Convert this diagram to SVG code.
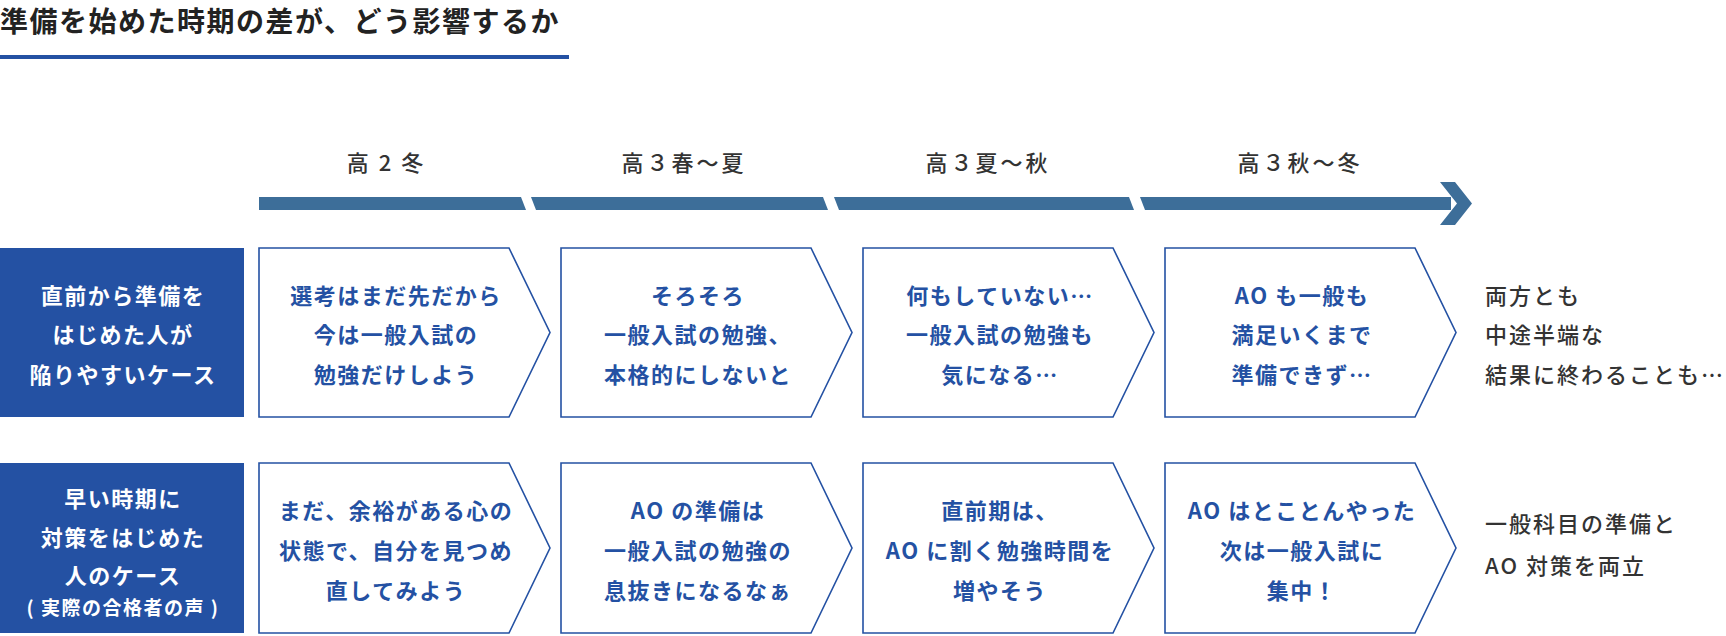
<svg xmlns="http://www.w3.org/2000/svg" width="1726" height="636" viewBox="0 0 1726 636">
<style>
text{font-family:"Noto Sans CJK JP","Noto Sans CJK SC",sans-serif;dominant-baseline:central}
.title{font-size:28px;font-weight:700;fill:#222;letter-spacing:1.5px}
.lab{font-size:22px;font-weight:500;fill:#333;letter-spacing:3px;text-anchor:middle}
.bar{fill:#3d6e99}
.head{fill:#2451a3}
.htx{font-size:22px;font-weight:700;fill:#fff;letter-spacing:1.5px;text-anchor:middle}
.hsm{font-size:19px;font-weight:700;fill:#fff;letter-spacing:1.5px;text-anchor:middle}
.chev{fill:#fff;stroke:#2451a3;stroke-width:1.6}
.ctx{font-size:22px;font-weight:700;fill:#2451a3;letter-spacing:1.5px;text-anchor:middle}
.rtx{font-size:22px;font-weight:500;fill:#333;letter-spacing:2px}
</style>
<g id="title">
<text class="title" x="0" y="20">準備を始めた時期の差が、どう影響するか</text>
<rect x="0" y="55" width="569" height="4" fill="#2451a3"/>
</g>
<g id="timeline">
<polygon class="bar" points="259,197 521,197 526,210 259,210"/>
<polygon class="bar" points="531,197 823,197 828,210 536,210"/>
<polygon class="bar" points="834,197 1129,197 1134,210 839,210"/>
<polygon class="bar" points="1140,197 1451,197 1451,210 1145,210"/>
<polygon class="bar" points="1440,182 1455,182 1472,203.5 1455,225 1440,225 1457,203.5"/>
<text class="lab" x="390" y="161" style="letter-spacing:10px">高2冬</text>
<text class="lab" x="684" y="161">高３春〜夏</text>
<text class="lab" x="988" y="161">高３夏〜秋</text>
<text class="lab" x="1300" y="161">高３秋〜冬</text>
</g>
<g id="row1-head">
<rect class="head" x="0" y="248" width="244" height="169"/>
<text class="htx" x="123" y="294">直前から準備を</text>
<text class="htx" x="123" y="333">はじめた人が</text>
<text class="htx" x="123" y="373">陥りやすいケース</text>
</g>
<g id="row1-c1">
<path class="chev" d="M259,248 L509,248 L550,332.5 L509,417 L259,417 Z"/>
<text class="ctx" x="396" y="294">選考はまだ先だから</text>
<text class="ctx" x="396" y="333">今は一般入試の</text>
<text class="ctx" x="396" y="373">勉強だけしよう</text>
</g>
<g id="row1-c2">
<path class="chev" d="M561,248 L811,248 L852,332.5 L811,417 L561,417 Z"/>
<text class="ctx" x="698" y="294">そろそろ</text>
<text class="ctx" x="698" y="333">一般入試の勉強、</text>
<text class="ctx" x="698" y="373">本格的にしないと</text>
</g>
<g id="row1-c3">
<path class="chev" d="M863,248 L1113,248 L1154,332.5 L1113,417 L863,417 Z"/>
<text class="ctx" x="1000" y="294">何もしていない…</text>
<text class="ctx" x="1000" y="333">一般入試の勉強も</text>
<text class="ctx" x="1000" y="373">気になる…</text>
</g>
<g id="row1-c4">
<path class="chev" d="M1165,248 L1415,248 L1456,332.5 L1415,417 L1165,417 Z"/>
<text class="ctx" x="1302" y="294">AO も一般も</text>
<text class="ctx" x="1302" y="333">満足いくまで</text>
<text class="ctx" x="1302" y="373">準備できず…</text>
</g>
<g id="row1-result">
<text class="rtx" x="1485" y="294">両方とも</text>
<text class="rtx" x="1485" y="333">中途半端な</text>
<text class="rtx" x="1485" y="373">結果に終わることも…</text>
</g>
<g id="row2-head">
<rect class="head" x="0" y="463" width="244" height="170"/>
<text class="htx" x="123" y="497">早い時期に</text>
<text class="htx" x="123" y="536">対策をはじめた</text>
<text class="htx" x="123" y="574">人のケース</text>
<text class="hsm" x="123" y="606">( 実際の合格者の声 )</text>
</g>
<g id="row2-c1">
<path class="chev" d="M259,463 L509,463 L550,548 L509,633 L259,633 Z"/>
<text class="ctx" x="396" y="509">まだ、余裕がある心の</text>
<text class="ctx" x="396" y="549">状態で、自分を見つめ</text>
<text class="ctx" x="396" y="589">直してみよう</text>
</g>
<g id="row2-c2">
<path class="chev" d="M561,463 L811,463 L852,548 L811,633 L561,633 Z"/>
<text class="ctx" x="698" y="509">AO の準備は</text>
<text class="ctx" x="698" y="549">一般入試の勉強の</text>
<text class="ctx" x="698" y="589">息抜きになるなぁ</text>
</g>
<g id="row2-c3">
<path class="chev" d="M863,463 L1113,463 L1154,548 L1113,633 L863,633 Z"/>
<text class="ctx" x="1000" y="509">直前期は、</text>
<text class="ctx" x="1000" y="549">AO に割く勉強時間を</text>
<text class="ctx" x="1000" y="589">増やそう</text>
</g>
<g id="row2-c4">
<path class="chev" d="M1165,463 L1415,463 L1456,548 L1415,633 L1165,633 Z"/>
<text class="ctx" x="1302" y="509">AO はとことんやった</text>
<text class="ctx" x="1302" y="549">次は一般入試に</text>
<text class="ctx" x="1302" y="589">集中！</text>
</g>
<g id="row2-result">
<text class="rtx" x="1485" y="522">一般科目の準備と</text>
<text class="rtx" x="1485" y="564">AO 対策を両立</text>
</g>
</svg>
